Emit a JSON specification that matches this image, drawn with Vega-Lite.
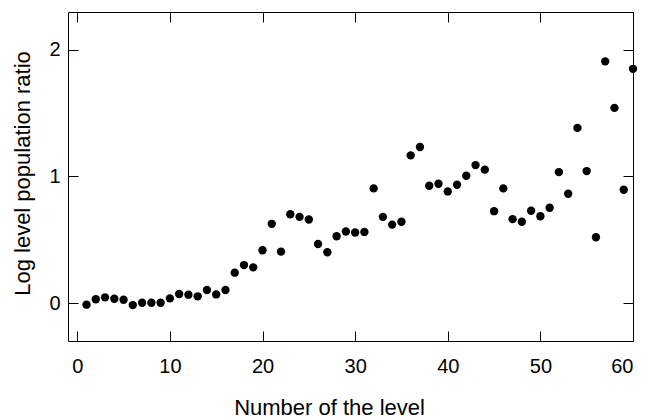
{
  "$schema": "https://vega.github.io/schema/vega-lite/v6.json",
  "width": 565,
  "height": 329,
  "autosize": {"type": "none"},
  "padding": {"left": 68, "top": 12, "right": 12, "bottom": 78},
  "background": "white",
  "config": {
    "view": {"stroke": "black", "strokeWidth": 1},
    "axis": {
      "labelFont": "Liberation Sans",
      "titleFont": "Liberation Sans",
      "labelFontSize": 20,
      "titleFontSize": 22,
      "labelColor": "black",
      "titleColor": "black",
      "titleFontWeight": "normal",
      "tickColor": "black",
      "domain": false,
      "grid": false,
      "tickSize": -10,
      "tickWidth": 1
    }
  },
  "data": {"values": [
    {"n": 1, "v": -0.013}, {"n": 2, "v": 0.03}, {"n": 3, "v": 0.045}, {"n": 4, "v": 0.034},
    {"n": 5, "v": 0.026}, {"n": 6, "v": -0.016}, {"n": 7, "v": 0.002}, {"n": 8, "v": 0.002},
    {"n": 9, "v": 0.002}, {"n": 10, "v": 0.037}, {"n": 11, "v": 0.071}, {"n": 12, "v": 0.066},
    {"n": 13, "v": 0.053}, {"n": 14, "v": 0.103}, {"n": 15, "v": 0.068}, {"n": 16, "v": 0.103},
    {"n": 17, "v": 0.24}, {"n": 18, "v": 0.30}, {"n": 19, "v": 0.282}, {"n": 20, "v": 0.417},
    {"n": 21, "v": 0.626}, {"n": 22, "v": 0.406}, {"n": 23, "v": 0.702}, {"n": 24, "v": 0.681},
    {"n": 25, "v": 0.66}, {"n": 26, "v": 0.467}, {"n": 27, "v": 0.401}, {"n": 28, "v": 0.528},
    {"n": 29, "v": 0.565}, {"n": 30, "v": 0.557}, {"n": 31, "v": 0.562}, {"n": 32, "v": 0.906},
    {"n": 33, "v": 0.681}, {"n": 34, "v": 0.62}, {"n": 35, "v": 0.642}, {"n": 36, "v": 1.167},
    {"n": 37, "v": 1.233}, {"n": 38, "v": 0.927}, {"n": 39, "v": 0.943}, {"n": 40, "v": 0.882},
    {"n": 41, "v": 0.935}, {"n": 42, "v": 1.006}, {"n": 43, "v": 1.09}, {"n": 44, "v": 1.054},
    {"n": 45, "v": 0.726}, {"n": 46, "v": 0.906}, {"n": 47, "v": 0.663}, {"n": 48, "v": 0.642},
    {"n": 49, "v": 0.729}, {"n": 50, "v": 0.686}, {"n": 51, "v": 0.753}, {"n": 52, "v": 1.035},
    {"n": 53, "v": 0.864}, {"n": 54, "v": 1.384}, {"n": 55, "v": 1.043}, {"n": 56, "v": 0.52},
    {"n": 57, "v": 1.91}, {"n": 58, "v": 1.542}, {"n": 59, "v": 0.895}, {"n": 60, "v": 1.851}
  ]},
  "layer": [
    {
      "mark": {"type": "point", "filled": true, "color": "black", "opacity": 1, "size": 70, "clip": false},
      "encoding": {
        "x": {"field": "n", "type": "quantitative",
              "scale": {"domain": [-1, 60], "nice": false, "zero": false},
              "axis": {"values": [0, 10, 20, 30, 40, 50, 60], "title": "Number of the level",
                       "labelPadding": 25, "titleX": 261, "titleY": 73, "titleBaseline": "alphabetic", "titleAlign": "center", "titleAnchor": null}},
        "y": {"field": "v", "type": "quantitative",
              "scale": {"domain": [-0.3, 2.3], "nice": false, "zero": false},
              "axis": {"values": [0, 1, 2], "title": "Log level population ratio",
                       "labelPadding": 18, "titleX": -39, "titleY": 161, "titleAngle": -90, "titleBaseline": "alphabetic", "titleAlign": "center", "labelAngle": 0}}
      }
    },
    {
      "mark": {"type": "point", "opacity": 0},
      "encoding": {
        "x": {"field": "n", "type": "quantitative",
              "axis": {"orient": "top", "values": [0, 10, 20, 30, 40, 50, 60], "labels": false, "title": null}},
        "y": {"field": "v", "type": "quantitative",
              "axis": {"orient": "right", "values": [0, 1, 2], "labels": false, "title": null}}
      }
    }
  ],
  "resolve": {"axis": {"x": "independent", "y": "independent"}}
}
